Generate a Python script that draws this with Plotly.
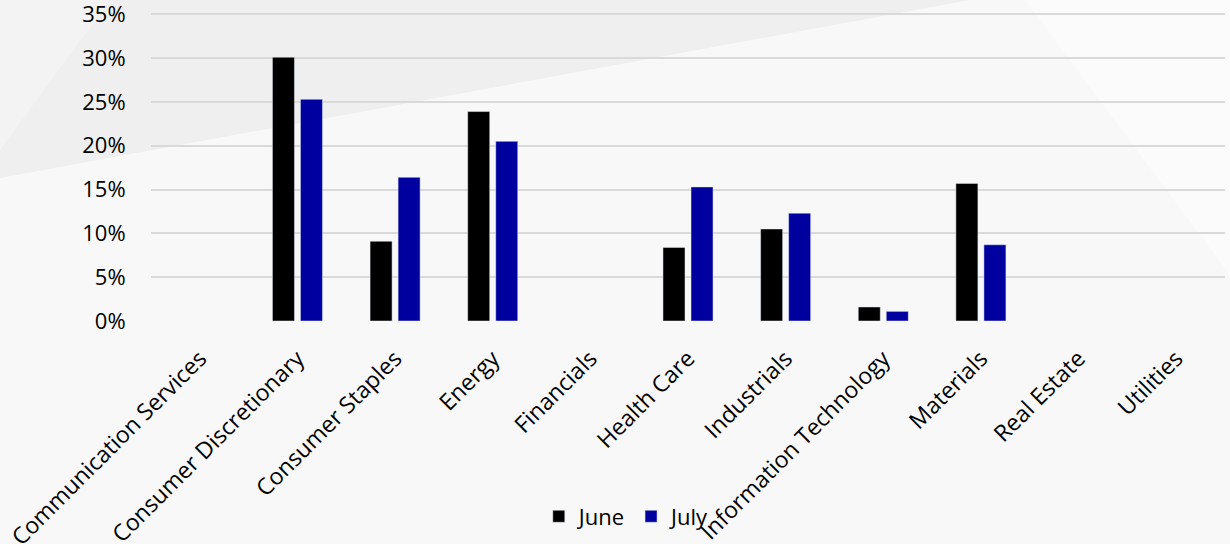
import plotly.graph_objects as go

sectors = [
    "Communication Services", "Consumer Discretionary", "Consumer Staples",
    "Energy", "Financials", "Health Care", "Industrials",
    "Information Technology", "Materials", "Real Estate", "Utilities",
]
june = [None, 30.1, 9.1, 23.9, None, 8.4, 10.5, 1.6, 15.7, None, None]
july = [None, 25.3, 16.4, 20.5, None, 15.3, 12.3, 1.1, 8.7, None, None]
y_ticks = [0, 5, 10, 15, 20, 25, 30, 35]
y_tick_text = [f"{v}%" for v in y_ticks]

FONT = "Open Sans"
W, H = 1230, 544
Y_MAX = 35.6
M_L, M_R, M_B = 151, 5, 223
M_T = 14 - round((Y_MAX - 35) * 307 / 35)
PW, PH = W - M_L - M_R, H - M_T - M_B


def px(x, y):
    """Convert figure pixel coordinates to paper coordinates."""
    return (x - M_L) / PW, (H - M_B - y) / PH


def poly(points):
    pts = [px(x, y) for x, y in points]
    return "M " + " L ".join(f"{a:.4f},{b:.4f}" for a, b in pts) + " Z"


fig = go.Figure()
fig.add_trace(go.Bar(name="June", x=sectors, y=june, marker_color="#000000"))
fig.add_trace(go.Bar(name="July", x=sectors, y=july, marker_color="#00009E"))

# soft diagonal background panels
shapes = [
    dict(type="path", path=poly([(0, 0), (970, 0), (0, 178)]),
         xref="paper", yref="paper", fillcolor="#efefef", line_width=0, layer="below"),
    dict(type="path", path=poly([(0, 0), (110, 0), (0, 150)]),
         xref="paper", yref="paper", fillcolor="#f3f3f3", line_width=0, layer="below"),
    dict(type="path", path=poly([(1025, 0), (1230, 0), (1230, 275)]),
         xref="paper", yref="paper", fillcolor="#fbfbfb", line_width=0, layer="below"),
]

fig.update_layout(
    width=W, height=H,
    margin=dict(l=M_L, r=M_R, t=M_T, b=M_B, autoexpand=False),
    paper_bgcolor="#f8f8f8",
    plot_bgcolor="rgba(0,0,0,0)",
    barmode="group",
    bargap=0.426,
    bargroupgap=0.214,
    font=dict(family=FONT, size=22, color="#000000"),
    shapes=shapes,
    showlegend=True,
    legend=dict(
        orientation="h", xref="container", yref="container",
        x=0.51, xanchor="center", y=0.012, yanchor="bottom",
        font=dict(family=FONT, size=22, color="#000000"),
        bgcolor="rgba(0,0,0,0)", itemwidth=30,
    ),
    xaxis=dict(
        tickangle=-45, showgrid=False, zeroline=False, showline=False,
        automargin=False, tickfont=dict(family=FONT, size=23),
        ticks="outside", ticklen=14, tickcolor="rgba(0,0,0,0)",
        ticklabeloverflow="allow",
    ),
    yaxis=dict(
        range=[0, Y_MAX], tickvals=y_ticks, ticktext=y_tick_text,
        showgrid=True, gridcolor="#d9d9d9", gridwidth=1.5,
        zeroline=False, showline=False, automargin=False,
        ticks="outside", ticklen=20, tickcolor="rgba(0,0,0,0)",
        tickfont=dict(family=FONT, size=22),
        ticklabeloverflow="allow",
    ),
)

fig.write_html("out.html")
